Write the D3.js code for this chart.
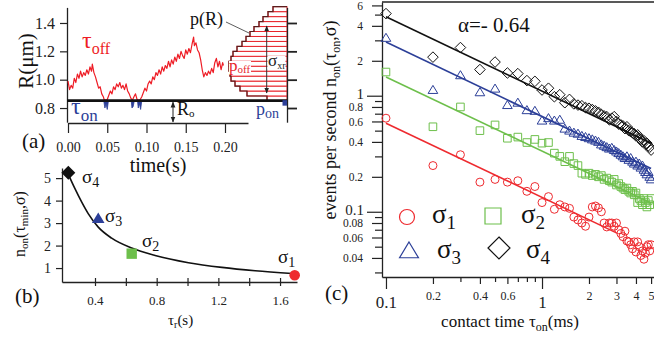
<!DOCTYPE html>
<html>
<head>
<meta charset="utf-8">
<script src="https://cdn.jsdelivr.net/npm/d3@7"></script>
<style>
  body { margin: 0; background: #fff; }
  svg { display: block; font-family: "Liberation Serif", "Times New Roman", serif; }
</style>
</head>
<body>
<svg id="fig" width="654" height="339"></svg>
<script>
// ---------- panel (a) : trajectory R(t) and histogram p(R) ----------
const traceT = [0.000,0.002,0.004,0.006,0.008,0.010,0.012,0.014,0.016,0.018,0.020,0.022,0.024,0.026,0.028,0.030,0.031,0.033,0.035,0.037,
  0.039,0.041,0.043,0.045,0.046,0.048,0.050,0.052,0.054,0.056,0.058,0.060,0.062,0.064,0.066,0.068,0.070,0.072,0.074,0.076,
  0.078,0.080,0.082,0.084,0.086,0.088,0.090,0.092,0.094,0.096,0.098,0.100,0.102,0.104,0.106,0.108,0.110,0.112,0.114,0.116,
  0.118,0.120,0.122,0.124,0.126,0.128,0.130,0.132,0.134,0.136,0.138,0.140,0.142,0.144,0.146,0.148,0.150,0.152,0.154,0.156,
  0.158,0.160,0.161,0.163,0.165,0.167,0.169,0.171,0.173,0.175,0.177,0.179,0.181,0.183,0.185,0.187,0.189,0.191,0.193,0.195,0.197,0.198];
const traceR = [0.99,0.93,0.96,0.94,1.01,0.98,1.04,1.01,1.06,1.02,1.05,1.03,1.07,1.04,1.09,1.06,1.11,1.05,1.02,0.98,
  0.94,0.95,0.90,0.88,0.86,0.855,0.86,0.89,0.92,0.90,0.95,0.93,0.97,0.95,0.98,0.94,0.96,0.93,0.97,0.92,
  0.90,0.87,0.855,0.88,0.90,0.86,0.855,0.86,0.88,0.91,0.94,0.92,0.97,0.99,0.97,1.02,1.00,1.05,1.03,1.07,
  1.04,1.09,1.06,1.10,1.08,1.13,1.09,1.14,1.11,1.16,1.13,1.18,1.15,1.20,1.17,1.15,1.21,1.18,1.22,1.19,
  1.25,1.30,1.24,1.26,1.21,1.19,1.14,1.07,1.02,1.05,1.03,1.06,1.04,1.08,1.05,1.12,1.15,1.09,1.13,1.07,1.12,1.10];
// contact events below R0
const onDips = [
  [[0.0455,0.852],[0.047,0.80],[0.0485,0.83],[0.050,0.79],[0.0515,0.852]],
  [[0.0805,0.852],[0.0815,0.80],[0.083,0.81],[0.0845,0.852]],
  [[0.0885,0.852],[0.0895,0.80],[0.091,0.83],[0.0925,0.79],[0.094,0.852]]
];
const R0 = 0.852;
const histLo = [0.85,0.885,0.92,0.955,0.99,1.025,1.06,1.095,1.13,1.165,1.2,1.235,1.27,1.305,1.34,1.375,1.41,1.445,1.48];
const histCount = [20,40,47,52,56,57,58,58,56,54,50,45,41,37,33,28,24,19,14];
const histBin = 0.035;
const aTicksX = [0, 0.05, 0.10, 0.15, 0.20];
const aTicksY = [0.8, 1.0, 1.2, 1.4];

// ---------- panel (b) : n_on(tau_min, sigma) vs tau_r ----------
const tauR = [1.695, 0.638, 0.421, 0.227];
const nOnMin = [0.68, 1.64, 3.2, 5.24];
const curveBx = [0.225,0.270,0.314,0.356,0.421,0.508,0.638,0.790,1.006,1.223,1.439,1.678];
const curveBy = [5.20,4.53,3.93,3.42,2.82,2.33,1.89,1.56,1.24,1.03,0.88,0.76];
const bTicksX = [0.4,0.6,0.8,1.0,1.2,1.4,1.6];
const bLabelsX = [0.4,0.8,1.2,1.6];
const bTicksY = [1,2,3,4,5];

// ---------- panel (c) : events per second vs contact time ----------
const tauOn = [0.1,0.2,0.3,0.4,0.5,0.6,0.7,0.8,0.9,1.0,1.1,1.2,1.3,1.4,1.5,1.6,1.7,1.8,1.9,2.0,
  2.1,2.2,2.3,2.4,2.5,2.6,2.7,2.8,2.9,3.0,3.1,3.2,3.3,3.4,3.5,3.6,3.7,3.8,3.9,4.0,
  4.1,4.2,4.3,4.4,4.5,4.6,4.7,4.8,4.9,5.0];
const nOn1 = [0.64,0.25,0.31,0.18,0.19,0.18,0.185,0.15,0.165,0.12,0.135,0.105,0.115,0.11,0.107,0.09,0.085,0.08,0.075,0.09,
  0.11,0.112,0.108,0.10,0.08,0.074,0.08,0.08,0.075,0.08,0.07,0.065,0.061,0.068,0.056,0.055,0.052,0.048,0.055,0.045,
  0.055,0.05,0.042,0.046,0.039,0.044,0.05,0.052,0.046,0.052];
const nOn2 = [1.6,0.54,0.8,0.5,0.56,0.43,0.44,0.395,0.42,0.39,0.395,0.32,0.30,0.27,0.30,0.26,0.25,0.215,0.21,0.215,
  0.205,0.21,0.20,0.205,0.19,0.195,0.185,0.18,0.19,0.17,0.175,0.165,0.16,0.155,0.16,0.15,0.145,0.15,0.14,0.145,
  0.12,0.13,0.125,0.115,0.13,0.12,0.11,0.125,0.115,0.13];
const nOn3 = [3.15,1.12,1.5,1.07,1.15,0.83,0.87,0.75,0.74,0.61,0.64,0.61,0.62,0.52,0.50,0.48,0.47,0.45,0.44,0.43,
  0.42,0.41,0.40,0.38,0.37,0.36,0.35,0.355,0.34,0.33,0.32,0.31,0.30,0.29,0.30,0.28,0.29,0.27,0.26,0.27,
  0.25,0.26,0.24,0.25,0.23,0.22,0.21,0.22,0.20,0.19];
const nOn4 = [5.1,2.15,2.6,1.68,1.95,1.57,1.55,1.35,1.33,1.12,1.16,0.98,1.02,0.87,0.93,0.85,0.83,0.82,0.79,0.78,
  0.76,0.74,0.72,0.69,0.67,0.66,0.62,0.64,0.66,0.60,0.57,0.56,0.55,0.52,0.54,0.50,0.49,0.48,0.47,0.45,
  0.46,0.43,0.42,0.40,0.41,0.38,0.39,0.37,0.36,0.34];
const fitX0 = [0.1, 0.1, 0.1, 0.1];
const fitY0 = [0.58, 1.45, 2.9, 4.8];
const fitX1 = [3.0, 5.0, 5.0, 5.0];
const fitY1 = [0.0658, 0.119, 0.236, 0.39];
const cTicksX = [0.1,0.2,0.3,0.4,0.5,0.6,0.7,0.8,0.9,1,2,3,4,5];
const cLabelsX = [0.1,0.2,0.4,0.6,1,2,3,4,5];
const cTicksY = [0.03,0.04,0.05,0.06,0.07,0.08,0.09,0.1,0.2,0.3,0.4,0.5,0.6,0.7,0.8,0.9,1,2,3,4,5,6];
const cLabelsY = [0.04,0.06,0.08,0.1,0.2,0.4,0.6,0.8,1,2,4,6];
const cMajor = [0.1, 1];

const sigmaColors = ["#ee2a2f", "#6dbf4b", "#2c3f98", "#111111"];
const sigmaShapes = ["circle", "square", "triangle", "diamond"];
const nOnC = [nOn1, nOn2, nOn3, nOn4];

const svg = d3.select("#fig");
svg.append("rect").attr("width", 654).attr("height", 339).attr("fill", "#fff");

// arrow markers
const defs = svg.append("defs");
defs.append("marker").attr("id", "ah").attr("viewBox", "0 0 10 10").attr("refX", 9).attr("refY", 5)
  .attr("markerWidth", 6).attr("markerHeight", 6).attr("orient", "auto-start-reverse")
  .append("path").attr("d", "M0,1L10,5L0,9Z").attr("fill", "#222");

function shape(kind, s) {
  if (kind === "circle") return `M${-s},0a${s},${s} 0 1,0 ${2*s},0a${s},${s} 0 1,0 ${-2*s},0Z`;
  if (kind === "square") return `M${-s},${-s}h${2*s}v${2*s}h${-2*s}Z`;
  if (kind === "triangle") return `M0,${-s}L${s*1.05},${s*0.75}L${-s*1.05},${s*0.75}Z`;
  return `M0,${-s}L${s},0L0,${s}L${-s},0Z`;
}

// text with sub parts: [text, size, dy]
function rich(x, y, parts, color, anchor, transform) {
  const t = svg.append("text").attr("x", x).attr("y", y).attr("fill", color || "#111")
    .attr("text-anchor", anchor || "start");
  if (transform) t.attr("transform", transform);
  parts.forEach(p => t.append("tspan").attr("font-size", p[1]).attr("dy", p[2] || 0).text(p[0]));
  return t;
}

function styleAxis(g) {
  g.selectAll("path").attr("stroke", "#222").attr("stroke-width", 1.3);
  g.selectAll("line").attr("stroke", "#222").attr("stroke-width", 1.2);
  g.selectAll("text").attr("fill", "#222").attr("font-family", "Liberation Serif, serif");
}

// ================= panel (a) =================
const xA = d3.scaleLinear().domain([0, 0.2293]).range([68, 248]);
const yA = d3.scaleLinear().domain([0.7, 1.51]).range([122.2, 7.4]);

const gAy = svg.append("g").attr("transform", "translate(67,0)")
  .call(d3.axisLeft(yA).tickValues(aTicksY).tickSize(7).tickPadding(5).tickSizeOuter(0).tickFormat(d3.format(".1f")));
styleAxis(gAy);
gAy.selectAll("text").attr("font-size", 16);

const gAx = svg.append("g").attr("transform", "translate(0,123)")
  .call(d3.axisBottom(xA).tickValues(aTicksX).tickSize(10).tickPadding(9).tickSizeOuter(0).tickFormat(d3.format(".2f")));
styleAxis(gAx);
gAx.selectAll("text").attr("font-size", 14);

// histogram p(R)
const hX = d3.scaleLinear().domain([0, 60]).range([287, 227]);
svg.append("g").selectAll("rect").data(histLo).join("rect")
  .attr("x", (d, i) => hX(histCount[i]))
  .attr("y", d => yA(d + histBin))
  .attr("width", (d, i) => hX(0) - hX(histCount[i]))
  .attr("height", d => yA(d) - yA(d + histBin))
  .attr("fill", "#fff").attr("stroke", "#e8242b").attr("stroke-width", 1);
let stair = `M${hX(0)},${yA(histLo[0])}`;
histLo.forEach((d, i) => {
  stair += `L${hX(histCount[i])},${yA(d)}L${hX(histCount[i])},${yA(d + histBin)}`;
});
stair += `L${hX(0)},${yA(histLo[histLo.length - 1] + histBin)}`;
svg.append("path").attr("d", stair).attr("fill", "none").attr("stroke", "#5a1c1c").attr("stroke-width", 1.2);

const gH = svg.append("g").attr("transform", "translate(287,0)")
  .call(d3.axisRight(yA).tickValues(aTicksY).tickSize(10).tickSizeOuter(0).tickFormat(""));
styleAxis(gH);
gH.selectAll("line").attr("stroke-width", 1.8);

// trace
svg.append("path").datum(traceT.map((t, i) => [t, traceR[i]]))
  .attr("d", d3.line().x(d => xA(d[0])).y(d => yA(d[1])))
  .attr("fill", "none").attr("stroke", "#ee1c25").attr("stroke-width", 1.2).attr("stroke-linejoin", "round");
svg.append("g").selectAll("path").data(onDips).join("path")
  .attr("d", d => d3.line().x(p => xA(p[0])).y(p => yA(p[1]))(d) + "Z")
  .attr("fill", "#2c3f98").attr("stroke", "#2c3f98").attr("stroke-width", 0.8);

// R0 baseline
svg.append("line").attr("x1", 67).attr("x2", 287).attr("y1", yA(R0)).attr("y2", yA(R0))
  .attr("stroke", "#111").attr("stroke-width", 2.6);
svg.append("rect").attr("x", 282.5).attr("y", yA(R0) - 0.5).attr("width", 4.5).attr("height", 5.5).attr("fill", "#2c3f98");

// arrows
svg.append("line").attr("x1", 173).attr("x2", 173).attr("y1", yA(R0) + 1.5).attr("y2", 122)
  .attr("stroke", "#222").attr("stroke-width", 1).attr("marker-start", "url(#ah)").attr("marker-end", "url(#ah)");
svg.append("line").attr("x1", 266.7).attr("x2", 266.7).attr("y1", 26).attr("y2", 93)
  .attr("stroke", "#333").attr("stroke-width", 1).attr("marker-start", "url(#ah)").attr("marker-end", "url(#ah)");
svg.append("line").attr("x1", 226).attr("y1", 22).attr("x2", 249).attr("y2", 33).attr("stroke", "#333").attr("stroke-width", 0.8);

// labels panel (a)
svg.append("rect").attr("x", 229).attr("y", 61).attr("width", 22).attr("height", 14).attr("fill", "#fff");
svg.append("rect").attr("x", 267.5).attr("y", 56).attr("width", 18).attr("height", 13).attr("fill", "#fff");
rich(229, 71, [["p", 17], ["off", 11, 2]], "#e8242b");
rich(268, 66, [["σ", 17], ["xr", 10, 3]], "#222");
rich(82, 48, [["τ", 24], ["off", 16, 6]], "#ee1c25");
rich(71, 114, [["τ", 24], ["on", 17, 7]], "#2c3f98");
rich(177, 115, [["R", 18], ["o", 11, 2]], "#111");
rich(190, 25, [["p(R)", 18]], "#111");
rich(256, 115, [["p", 18], ["on", 14, 3]], "#2c3f98");
rich(22, 148, [["(a)", 21]], "#111");
rich(158, 172, [["time(s)", 20]], "#111", "middle");
rich(0, 0, [["R(μm)", 21]], "#111", "middle", "translate(33,61) rotate(-90)");

// ================= panel (b) =================
const xB = d3.scaleLinear().domain([0.186, 1.71]).range([62, 297]);
const yB = d3.scaleLinear().domain([0.38, 5.45]).range([282, 168]);

const gBy = svg.append("g").attr("transform", "translate(62,0)")
  .call(d3.axisLeft(yB).tickValues(bTicksY).tickSize(6).tickPadding(5).tickSizeOuter(0).tickFormat(d3.format("d")));
styleAxis(gBy);
gBy.selectAll("text").attr("font-size", 14);

const gBx = svg.append("g").attr("transform", "translate(0,282)")
  .call(d3.axisBottom(xB).tickValues(bTicksX).tickSize(4).tickPadding(10).tickSizeOuter(0)
    .tickFormat(d => bLabelsX.includes(d) ? d3.format(".1f")(d) : ""));
styleAxis(gBx);
gBx.selectAll(".tick line").attr("y1", -4);
gBx.selectAll("text").attr("font-size", 13);

svg.append("path").datum(curveBx.map((x, i) => [x, curveBy[i]]))
  .attr("d", d3.line().x(d => xB(d[0])).y(d => yB(d[1])).curve(d3.curveMonotoneX))
  .attr("fill", "none").attr("stroke", "#111").attr("stroke-width", 1.6);

const bSize = [5.3, 5.2, 6, 7];
svg.append("g").selectAll("path").data(tauR).join("path")
  .attr("transform", (d, i) => `translate(${xB(d)},${yB(nOnMin[i])})`)
  .attr("d", (d, i) => shape(sigmaShapes[i], bSize[i]))
  .attr("fill", (d, i) => sigmaColors[i]);

rich(278, 263, [["σ", 19], ["1", 14, 4]], "#111");
rich(142, 247, [["σ", 19], ["2", 14, 4]], "#111");
rich(105, 222, [["σ", 19], ["3", 14, 4]], "#111");
rich(82, 183, [["σ", 19], ["4", 14, 4]], "#111");
rich(15, 303, [["(b)", 21]], "#111");
rich(168, 325, [["τ", 15], ["r", 10, 3], ["(s)", 15, -3]], "#111");
rich(0, 0, [["n", 16], ["on", 11, 3], ["(τ", 16, -3], ["min", 11, 3], [",σ)", 16, -3]], "#111", "middle",
  "translate(25,224) rotate(-90)");

// ================= panel (c) =================
const xC = d3.scaleLog().domain([0.0943, 5.4]).range([382, 656.3]);
const yC = d3.scaleLog().domain([0.0274, 6.42]).range([277, 2]);

const gCy = svg.append("g").attr("transform", "translate(382,0)")
  .call(d3.axisLeft(yC).tickValues(cTicksY).tickSizeOuter(0)
    .tickFormat(d => cLabelsY.includes(d) ? d3.format("~g")(d) : ""));
styleAxis(gCy);
gCy.selectAll(".tick line").attr("x2", d => cMajor.includes(d) ? -15 : cLabelsY.includes(d) ? -10 : -7);
gCy.selectAll(".tick text").attr("x", d => cMajor.includes(d) ? -18 : -19)
  .attr("dy", d => cMajor.includes(d) ? "0.2em" : "0.32em")
  .attr("font-size", d => cMajor.includes(d) ? 15 : 11.5);

const gCx = svg.append("g").attr("transform", "translate(0,277)")
  .call(d3.axisBottom(xC).tickValues(cTicksX).tickSizeOuter(0)
    .tickFormat(d => cLabelsX.includes(d) ? d3.format("~g")(d) : ""));
styleAxis(gCx);
gCx.selectAll(".tick line").attr("y2", d => cMajor.includes(d) ? 12 : cLabelsX.includes(d) ? 7 : 5);
gCx.selectAll(".tick text").attr("dy", 0).attr("y", d => cMajor.includes(d) ? 31 : 23)
  .attr("font-size", d => cMajor.includes(d) ? 17 : 12);
svg.append("line").attr("x1", 382).attr("x2", 654).attr("y1", 2).attr("y2", 2).attr("stroke", "#222").attr("stroke-width", 1.3);

const cSize = [4, 3.8, 4.6, 5.3];
nOnC.forEach((series, k) => {
  svg.append("g").selectAll("path").data(series).join("path")
    .attr("transform", (d, i) => `translate(${xC(tauOn[i])},${yC(d)})`)
    .attr("d", shape(sigmaShapes[k], cSize[k]))
    .attr("fill", "none").attr("stroke", sigmaColors[k]).attr("stroke-width", 1);
});
svg.append("g").selectAll("line").data(fitX0).join("line")
  .attr("x1", d => xC(d)).attr("y1", (d, i) => yC(fitY0[i]))
  .attr("x2", (d, i) => xC(fitX1[i])).attr("y2", (d, i) => yC(fitY1[i]))
  .attr("stroke", (d, i) => sigmaColors[i]).attr("stroke-width", 1.6);

// legend
const legX = [407, 493, 409, 499];
const legY = [217, 216, 251, 248];
const legS = [7.5, 8, 9, 11];
svg.append("g").selectAll("path").data(legX).join("path")
  .attr("transform", (d, i) => `translate(${d},${legY[i]})`)
  .attr("d", (d, i) => shape(sigmaShapes[i], legS[i]))
  .attr("fill", "none").attr("stroke", (d, i) => sigmaColors[i]).attr("stroke-width", 1.2);
rich(432, 223, [["σ", 27], ["1", 19, 6]], "#111");
rich(521, 223, [["σ", 27], ["2", 19, 6]], "#111");
rich(437, 258, [["σ", 27], ["3", 19, 6]], "#111");
rich(526, 258, [["σ", 27], ["4", 19, 6]], "#111");

rich(458, 32, [["α=- 0.64", 21]], "#111");
rich(325, 300, [["(c)", 21]], "#111");
rich(510, 327, [["contact time τ", 17], ["on", 12, 4], ["(ms)", 17, -4]], "#111", "middle");
rich(0, 0, [["events per second n", 18], ["on", 12, 4], ["(τ", 18, -4], ["on", 12, 4], [",σ)", 18, -4]], "#111", "middle",
  "translate(336,120) rotate(-90)");
</script>
</body>
</html>
